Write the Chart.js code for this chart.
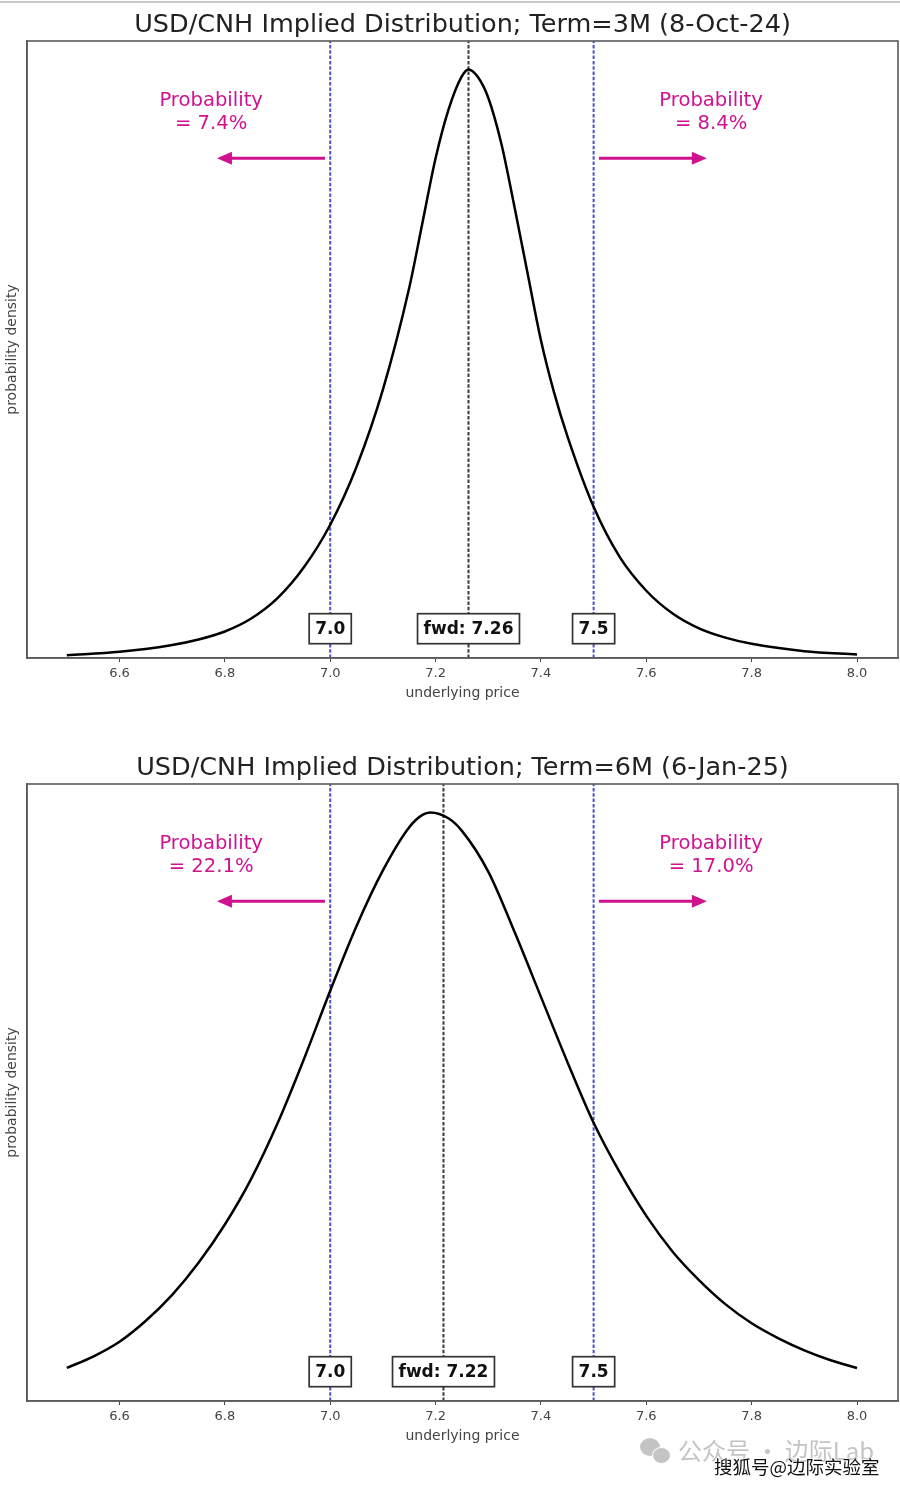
<!DOCTYPE html>
<html lang="en">
<head>
<meta charset="utf-8">
<script src="https://cdn.jsdelivr.net/npm/chart.js@4"></script>
<style>
  html,body{margin:0;padding:0;background:#fff;width:900px;height:1486px;overflow:hidden}
  #top-rule{position:absolute;left:0;top:1px;width:900px;height:2px;background:#c9c9c9}
  .wrap{position:absolute;left:0;width:900px;height:743px}
  canvas{display:block;filter:blur(0.5px)}
  #wm1{position:absolute;left:678px;top:1434px;font:24px "Noto Sans CJK SC";color:#c4c4c4;white-space:nowrap;line-height:32px}
  #wm2{position:absolute;left:714px;top:1454px;font:18.5px "Noto Sans CJK SC";color:#111;white-space:nowrap;line-height:24px;
       text-shadow:0 0 2px #fff,0 0 2px #fff,0 0 2px #fff}
  .bub{position:absolute;background:#c4c4c4;border-radius:50%}
</style>
</head>
<body>
<div id="top-rule"></div>
<div class="wrap" style="top:0"><canvas id="c1" width="900" height="743"></canvas></div>
<div class="wrap" style="top:743px"><canvas id="c2" width="900" height="743"></canvas></div>
<div class="bub" style="left:640px;top:1438px;width:20px;height:18px"></div>
<div class="bub" style="left:652px;top:1447px;width:17px;height:15px;border:1px solid #fff"></div>
<div id="wm1">公众号 · 边际Lab</div>
<div id="wm2">搜狐号@边际实验室</div>
<script>
const titles = ["USD/CNH Implied Distribution; Term=3M (8-Oct-24)", "USD/CNH Implied Distribution; Term=6M (6-Jan-25)"];
const xTicks = [6.6, 6.8, 7.0, 7.2, 7.4, 7.6, 7.8, 8.0];
const xMin = 6.4244, xMax = 8.0778;
const strikes = [7.0, 7.5];
const strikeLabels = ["7.0", "7.5"];

const price3M = [6.5,6.6,6.7,6.75,6.8,6.85,6.9,6.95,7.0,7.05,7.1,7.15,7.175,7.2,7.225,7.25,7.2625,7.28,7.3,7.325,7.35,7.375,7.4,7.425,7.45,7.5,7.55,7.6,7.65,7.7,7.75,7.8,7.9,8.0];
const density3M = [0.44,1.0,2.1,3.0,4.3,6.4,9.7,14.7,21.6,31.0,43.5,60.0,70.5,81.0,89.0,94.3,95.4,94.2,90.8,83.3,73.0,62.2,51.5,43.0,36.0,24.5,16.3,10.9,7.2,4.8,3.3,2.3,1.1,0.57];
const fwd3M = 7.2625, fwdLabel3M = "fwd: 7.26";
const probs3M = ["= 7.4%", "= 8.4%"];

const price6M = [6.5,6.55,6.6,6.65,6.7,6.75,6.8,6.85,6.9,6.95,7.0,7.05,7.1,7.15,7.175,7.19,7.225,7.25,7.3,7.35,7.4,7.45,7.5,7.55,7.6,7.65,7.7,7.75,7.8,7.85,7.9,7.95,8.0];
const density6M = [5.36,7.2,9.6,13.0,17.2,22.4,28.6,36.0,45.0,55.4,66.5,77.0,86.0,93.0,95.0,95.4,94.4,92.4,85.8,76.0,65.5,55.0,45.1,37.0,30.0,24.2,19.6,15.7,12.6,10.2,8.2,6.6,5.36];
const fwd6M = 7.215, fwdLabel6M = "fwd: 7.22";
const probs6M = ["= 22.1%", "= 17.0%"];

const arrowY = 81, probLine1Y = 90.3, probLine2Y = 86.6, labelY = 4.75;
const leftArrow = [6.99, 6.785], rightArrow = [7.51, 7.715];
const probCentres = [6.774, 7.723];

const MAGENTA = "#d0128f", FONT = '"DejaVu Sans"';

function overlay(fwd, fwdLabel, probs){
  return {
    id:"overlay",
    afterDatasetsDraw(chart){
      const {ctx, chartArea:a, scales:{x,y}} = chart;
      ctx.save();
      ctx.strokeStyle = "#5a5a5a"; ctx.lineWidth = 1.6;
      ctx.strokeRect(a.left, a.top, a.right-a.left, a.bottom-a.top);

      ctx.fillStyle = MAGENTA; ctx.textAlign = "center"; ctx.textBaseline = "middle";
      ctx.font = `19.6px ${FONT}`;
      probCentres.forEach((c,i)=>{
        ctx.fillText("Probability", x.getPixelForValue(c), y.getPixelForValue(probLine1Y));
        ctx.fillText(probs[i], x.getPixelForValue(c), y.getPixelForValue(probLine2Y));
      });

      [leftArrow, rightArrow].forEach(r=>{
        const x0 = x.getPixelForValue(r[0]), x1 = x.getPixelForValue(r[1]), py = y.getPixelForValue(arrowY);
        const d = Math.sign(x1-x0);
        ctx.strokeStyle = MAGENTA; ctx.lineWidth = 2.8;
        ctx.beginPath(); ctx.moveTo(x0,py); ctx.lineTo(x1-d*12,py); ctx.stroke();
        ctx.beginPath(); ctx.moveTo(x1,py); ctx.lineTo(x1-d*15,py-6.5); ctx.lineTo(x1-d*15,py+6.5); ctx.closePath(); ctx.fill();
      });

      ctx.font = `bold 17px ${FONT}`;
      const boxes = strikes.map((s,i)=>[s,strikeLabels[i]]).concat([[fwd,fwdLabel]]);
      boxes.forEach(([v,t])=>{
        const cx = x.getPixelForValue(v), cy = y.getPixelForValue(labelY);
        const w = ctx.measureText(t).width + 12, h = 30;
        ctx.fillStyle = "#fff"; ctx.strokeStyle = "#333"; ctx.lineWidth = 1.7;
        ctx.fillRect(cx-w/2, cy-h/2, w, h); ctx.strokeRect(cx-w/2, cy-h/2, w, h);
        ctx.fillStyle = "#111"; ctx.fillText(t, cx, cy+0.5);
      });
      ctx.restore();
    }
  };
}

function vline(v, color){
  return {data:[{x:v,y:0},{x:v,y:100}], borderColor:color, borderWidth:2, borderDash:[3.5,1.8], pointRadius:0, order:2};
}

function build(id, title, prices, density, fwd, fwdLabel, probs){
  new Chart(document.getElementById(id), {
    type:"line",
    data:{datasets:[
      {data:prices.map((p,i)=>({x:p,y:density[i]})), borderColor:"#000", borderWidth:2.5, pointRadius:0, cubicInterpolationMode:"monotone", order:1},
      vline(strikes[0], "#5050cc"),
      vline(strikes[1], "#5050cc"),
      vline(fwd, "#3a3a3a")
    ]},
    options:{
      responsive:false, animation:false,
      layout:{padding:{right:2,bottom:40,left:0,top:0}},
      plugins:{
        legend:{display:false}, tooltip:{enabled:false},
        title:{display:true, text:title, fullSize:false, color:"#222", font:{family:FONT,size:25.5,weight:"normal",lineHeight:1.2}, padding:{top:10.4,bottom:0}}
      },
      scales:{
        x:{type:"linear", min:xMin, max:xMax,
           afterBuildTicks(s){ s.ticks = xTicks.map(v=>({value:v})); },
           afterFit(s){ s.height = 45; },
           grid:{drawOnChartArea:false, drawTicks:true, tickLength:4, tickColor:"#444"},
           border:{color:"#5a5a5a", width:1.6},
           ticks:{color:"#444", padding:4, maxRotation:0, autoSkip:false, font:{family:FONT,size:13}, callback:v=>Number(v).toFixed(1)},
           title:{display:true, text:"underlying price", color:"#444", font:{family:FONT,size:14,lineHeight:1.2}, padding:{top:0,bottom:1}}
        },
        y:{min:0, max:100,
           afterFit(s){ s.width = 27; },
           grid:{display:false},
           border:{color:"#5a5a5a", width:1.6},
           ticks:{display:false},
           title:{display:true, text:"probability density", color:"#444", font:{family:FONT,size:14,lineHeight:1.2}, padding:{top:4,bottom:0}}
        }
      }
    },
    plugins:[overlay(fwd, fwdLabel, probs)]
  });
}

build("c1", titles[0], price3M, density3M, fwd3M, fwdLabel3M, probs3M);
build("c2", titles[1], price6M, density6M, fwd6M, fwdLabel6M, probs6M);
</script>
</body>
</html>
